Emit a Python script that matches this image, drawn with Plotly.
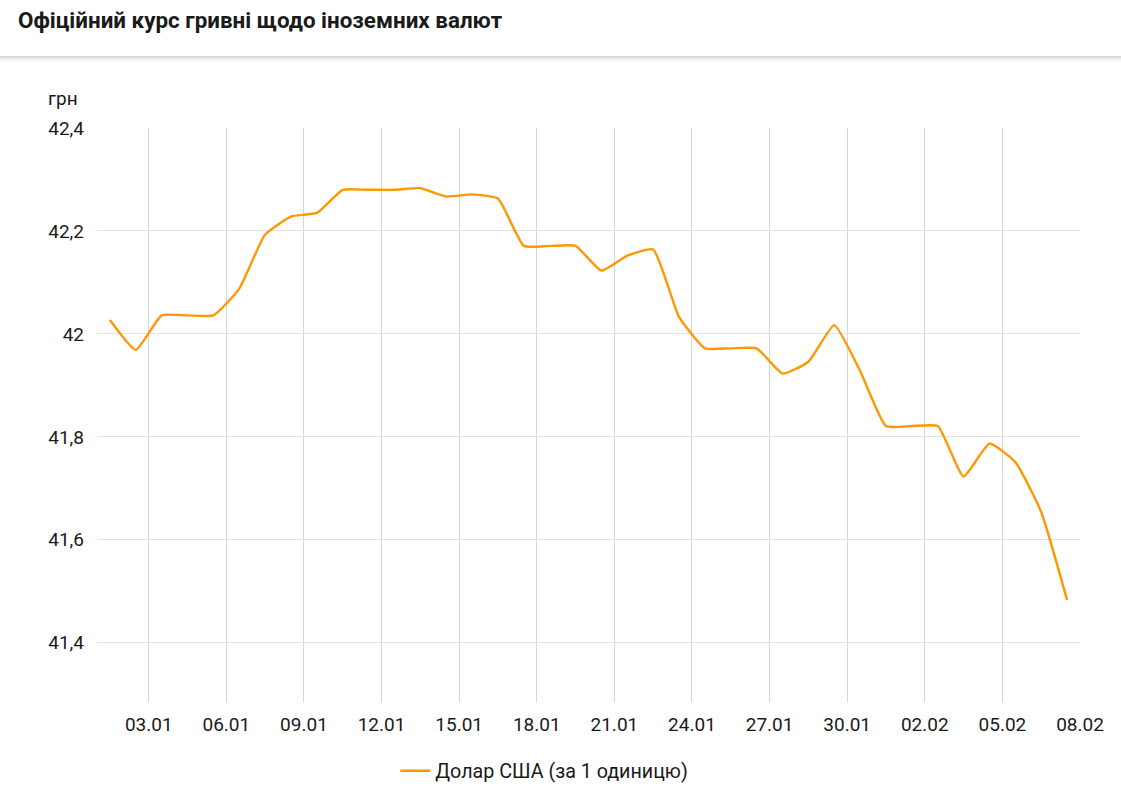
import plotly.graph_objects as go
import pandas as pd

dates = pd.date_range("2025-01-01 12:00", "2025-02-07 12:00", freq="D")
usd = [42.027, 41.969, 42.036, 42.036, 42.036, 42.088, 42.193, 42.228, 42.235, 42.280,
       42.280, 42.280, 42.283, 42.267, 42.271, 42.263, 42.171, 42.171, 42.171, 42.123,
       42.152, 42.164, 42.033, 41.972, 41.972, 41.972, 41.923, 41.946, 42.017, 41.928,
       41.821, 41.821, 41.821, 41.723, 41.787, 41.751, 41.654, 41.483]

title_text = "Офіційний курс гривні щодо іноземних валют"
series_name = "Долар США (за 1 одиницю)"
unit = "грн"

FONT = "Roboto"
TXT = "#1a1a1a"
PW = 1080 - 97
PH = 702 - 128

fig = go.Figure()
fig.add_trace(go.Scatter(
    x=dates, y=usd, mode="lines", name=series_name,
    line=dict(color="#FF9800", width=2.4, shape="spline", smoothing=0.45),
))

fig.update_layout(
    width=1121, height=787,
    margin=dict(l=97, r=41, t=128, b=85, autoexpand=False),
    paper_bgcolor="white", plot_bgcolor="white",
    separators=", ",
    font=dict(family=FONT, size=19, color=TXT),
    showlegend=True,
    legend=dict(orientation="h", x=0.455, xanchor="center",
                yref="container", y=1 - 771 / 787, yanchor="middle",
                font=dict(size=19.7, color=TXT), itemwidth=30),
    title=dict(text="<b>" + title_text + "</b>", x=18 / 1121, xref="container", xanchor="left",
               y=1 - 20 / 787, yref="container", yanchor="middle",
               font=dict(family=FONT, size=22.4, color=TXT)),
    xaxis=dict(
        type="date", range=["2025-01-01", "2025-02-08"],
        tick0="2025-01-03", dtick=3 * 86400000, tickformat="%d.%m",
        showgrid=True, gridcolor="#d6d6d6", gridwidth=1,
        zeroline=False, showline=False, ticks="", ticklabelstandoff=9,
        tickfont=dict(size=19),
    ),
    yaxis=dict(
        range=[41.285, 42.4], tick0=41.4, dtick=0.2,
        showgrid=True, gridcolor="#e2e2e2", gridwidth=1,
        zeroline=False, showline=False, ticks="", ticklabelstandoff=12,
        tickfont=dict(size=19),
    ),
    shapes=[
        dict(type="line", xref="paper", yref="paper", x0=-97 / PW, x1=(1121 - 97) / PW,
             y0=(702 - 57) / PH, y1=(702 - 57) / PH, line=dict(color="#dcdcdc", width=2)),
        dict(type="line", xref="paper", yref="paper", x0=-97 / PW, x1=(1121 - 97) / PW,
             y0=(702 - 59) / PH, y1=(702 - 59) / PH, line=dict(color="#eeeeee", width=2)),
        dict(type="line", xref="paper", yref="paper", x0=-97 / PW, x1=(1121 - 97) / PW,
             y0=(702 - 61) / PH, y1=(702 - 61) / PH, line=dict(color="#f7f7f7", width=2)),
    ],
    annotations=[
        dict(text=unit, xref="paper", yref="paper", x=(46 - 97) / PW, y=(702 - 98) / PH,
             xanchor="left", yanchor="middle", showarrow=False,
             font=dict(family=FONT, size=19, color=TXT)),
    ],
)

fig.write_html("out.html", config={"displayModeBar": False},
               post_script="document.body.style.margin='0';document.body.style.overflow='hidden';")
